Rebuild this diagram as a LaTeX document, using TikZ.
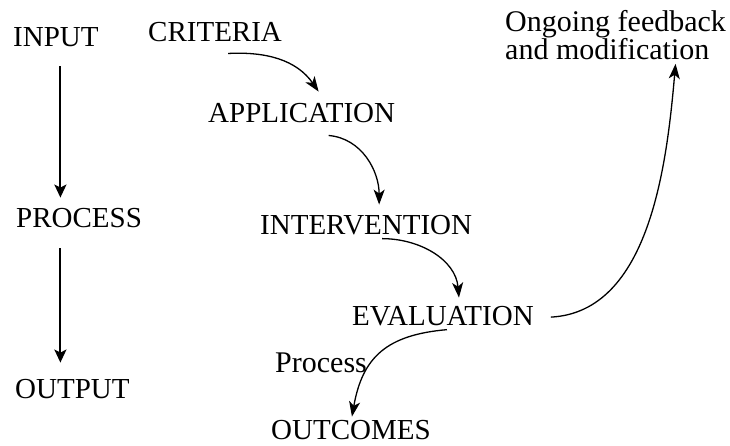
\documentclass[tikz,border=0pt]{standalone}
\usepackage{fontspec}
\setmainfont{Liberation Serif}
\usetikzlibrary{arrows.meta,calc}
\begin{document}
\begin{tikzpicture}[x=1pt,y=1pt,
  lbl/.style={inner sep=0pt, anchor=base west, font=\fontsize{29}{28}\selectfont},
  small/.style={lbl, font=\fontsize{30}{28}\selectfont},
  straight/.style={line width=2.2pt,-{Stealth[length=13pt,width=12pt,inset=3pt]}},
  curved/.style={line width=1.3pt,-{Stealth[length=15pt,width=11pt,inset=4pt]}}]
\useasboundingbox (0,0) rectangle (730,-446);
\node[lbl] (input) at (13,-47) {INPUT};
\node[lbl] (process) at (16,-228) {PROCESS};
\node[lbl] (output) at (15,-398) {OUTPUT};
\node[lbl] (crit) at (148,-42) {CRITERIA};
\node[lbl] (app) at (208,-123) {APPLICATION};
\node[lbl] (int) at (260,-235) {INTERVENTION};
\node[lbl] (eval) at (352,-325) {EVALUATION};
\node[lbl] (outc) at (271,-439) {OUTCOMES};
\node[small] (plabel) at (275,-372) {Process};
\node[small, anchor=north west, align=left] (ong) at (505,-10) {Ongoing feedback\\and modification};
\draw[straight] ($(input.south)+(4.5,-19)$) -- ($(input.south |- process.north)+(4.5,11)$);
\draw[straight] ($(input.south |- process.south)+(4.5,-20)$) -- ($(input.south |- output.north)+(4.5,16)$);
\draw[curved] ($(crit.south)+(13,-11)$) to[out=3,in=125] ($(app.north)+(17,12)$);
\draw[curved] ($(app.south)+(27,-12)$) to[out=-5,in=90] ($(int.north)+(13,11)$);
\draw[curved] ($(int.south)+(16,-3)$) to[out=0,in=95] ($(eval.north)+(16,8)$);
\draw[curved] ($(eval.south)+(4,-4)$) to[out=185,in=80,looseness=1.2] ($(outc.north)+(1,3)$);
\draw[curved] ($(eval.east)+(17,-1.5)$) to[out=3,in=-95,looseness=0.9] ($(ong.south)+(60,-4)$);
\end{tikzpicture}
\end{document}
